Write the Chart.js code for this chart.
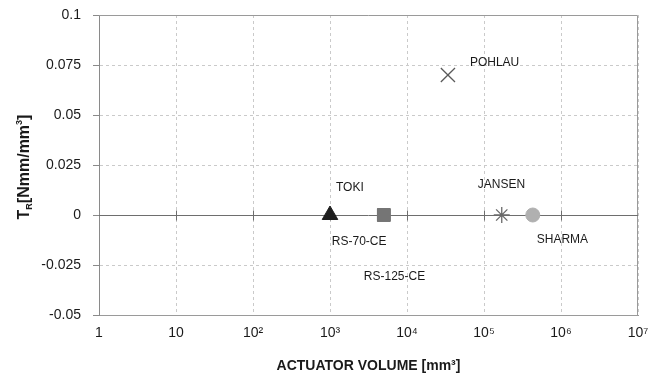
<!DOCTYPE html>
<html>
<head>
<meta charset="utf-8">
<script src="https://cdn.jsdelivr.net/npm/chart.js@4/dist/chart.umd.min.js"></script>
<style>
html, body { margin: 0; padding: 0; background: #fff; }
#wrap { width: 653px; height: 382px; }
</style>
</head>
<body>
<div id="wrap"><canvas id="chart"></canvas></div>
<script>
// data
const names = ['TOKI', 'RS-70-CE', 'RS-125-CE', 'POHLAU', 'JANSEN', 'SHARMA']
const volumes = [1000, 5000, 5000, 34000, 170000, 430000]
const torques = [0, 0, 0, 0.07, 0, 0]

const xTicks = [1, 10, 100, 1e3, 1e4, 1e5, 1e6, 1e7]
const xTickLabels = ['1', '10', '10²', '10³', '10⁴', '10⁵', '10⁶', '10⁷']
const yTicks = [-0.05, -0.025, 0, 0.025, 0.05, 0.075, 0.1]
const yTickLabels = ['-0.05', '-0.025', '0', '0.025', '0.05', '0.075', '0.1']

// marker looks
const shapes = ['triangle', 'rect', 'rect', 'crossRot', 'star', 'circle']
const fills = ['#1e1e1e', '#757575', '#757575', '#5a5a5a', '#6a6a6a', '#b0b0b0']
const sizes = [9, 9, 9, 10, 8, 7]
// where each name sits from its marker (left edge, vertical centre)
const labelDx = [6, -52, -20, 22, -24, 4]
const labelDy = [-27, 27, 62, -12, -30, 25]

const font = "'Liberation Sans', Arial, sans-serif"

let datasets = []
for (let i = 0; i < names.length; i++) {
    datasets.push({
        label: names[i],
        data: [{ x: volumes[i], y: torques[i] }],
        pointStyle: shapes[i],
        pointRadius: sizes[i],
        backgroundColor: fills[i],
        borderColor: fills[i],
        borderWidth: shapes[i] == 'crossRot' || shapes[i] == 'star' ? 1.3 : 1
    })
}

const framePlugin = {
    id: 'frame',
    beforeDatasetsDraw(chart) {
        const { ctx, chartArea: a, scales: { x, y } } = chart
        ctx.save()
        ctx.lineWidth = 1
        ctx.strokeStyle = '#9a9a9a'
        ctx.beginPath()
        ctx.moveTo(a.left, a.top + 0.5)
        ctx.lineTo(a.right - 0.5, a.top + 0.5)
        ctx.lineTo(a.right - 0.5, a.bottom)
        ctx.stroke()

        // solid line at zero with small decade ticks
        const y0 = Math.round(y.getPixelForValue(0)) + 0.5
        ctx.strokeStyle = '#6e6e6e'
        ctx.beginPath()
        ctx.moveTo(a.left, y0)
        ctx.lineTo(a.right, y0)
        xTicks.slice(1, -1).forEach(v => {
            const px = Math.round(x.getPixelForValue(v)) + 0.5
            ctx.moveTo(px, y0 - 5)
            ctx.lineTo(px, y0 + 5)
        })
        ctx.stroke()
        ctx.restore()
    },
    afterDatasetsDraw(chart) {
        const ctx = chart.ctx
        ctx.save()
        ctx.fillStyle = '#1a1a1a'
        ctx.font = '12px ' + font
        ctx.textAlign = 'left'
        ctx.textBaseline = 'middle'
        for (let i = 0; i < names.length; i++) {
            const pt = chart.getDatasetMeta(i).data[0]
            ctx.fillText(names[i], pt.x + labelDx[i], pt.y + labelDy[i])
        }

        // y title: T with subscript R, then [Nmm/mm³]
        ctx.translate(25, 167)
        ctx.rotate(-Math.PI / 2)
        const big = 'bold 16px ' + font
        const small = 'bold 9px ' + font
        const parts = [
            { t: 'T', f: big, dy: 0 },
            { t: 'R', f: small, dy: 5 },
            { t: '[Nmm/mm', f: big, dy: 0 },
            { t: '3', f: small, dy: -5 },
            { t: ']', f: big, dy: 0 }
        ]
        let total = 0
        parts.forEach(p => { ctx.font = p.f; total += ctx.measureText(p.t).width })
        let cx = -total / 2
        ctx.textBaseline = 'middle'
        parts.forEach(p => {
            ctx.font = p.f
            ctx.fillText(p.t, cx, p.dy)
            cx += ctx.measureText(p.t).width
        })
        ctx.restore()
    }
}

new Chart(document.getElementById('chart'), {
    type: 'scatter',
    data: { datasets: datasets },
    options: {
        responsive: true,
        maintainAspectRatio: false,
        animation: false,
        layout: { padding: { top: 15, right: 15, left: 0, bottom: 0 } },
        plugins: {
            legend: { display: false },
            tooltip: { enabled: false }
        },
        scales: {
            x: {
                type: 'logarithmic',
                min: 1,
                max: 1e7,
                afterBuildTicks: s => { s.ticks = xTicks.map(v => ({ value: v })) },
                afterFit: s => { s.height = 67; s.paddingLeft = 0; s.paddingRight = 0 },
                grid: { color: '#cacaca', drawTicks: false },
                border: { display: true, color: '#9a9a9a', dash: [3, 3] },
                ticks: {
                    padding: 10,
                    color: '#1a1a1a',
                    font: { family: font, size: 14 },
                    maxRotation: 0,
                    autoSkip: false,
                    callback: (v, i) => xTickLabels[i]
                },
                title: {
                    display: true,
                    text: 'ACTUATOR VOLUME [mm³]',
                    color: '#1a1a1a',
                    font: { family: font, size: 14, weight: 'bold' },
                    padding: { top: 0, bottom: 7 }
                }
            },
            y: {
                min: -0.05,
                max: 0.1,
                afterBuildTicks: s => { s.ticks = yTicks.map(v => ({ value: v })) },
                afterFit: s => { s.width = 99; s.paddingTop = 0; s.paddingBottom = 0 },
                grid: {
                    color: '#cacaca',
                    tickColor: '#8a8a8a',
                    tickLength: 6,
                    tickBorderDash: []
                },
                border: { display: true, color: '#8a8a8a', dash: [3, 3] },
                ticks: {
                    padding: 12,
                    color: '#1a1a1a',
                    font: { family: font, size: 14 },
                    callback: (v, i) => yTickLabels[i]
                }
            }
        }
    },
    plugins: [framePlugin]
});
</script>
</body>
</html>
